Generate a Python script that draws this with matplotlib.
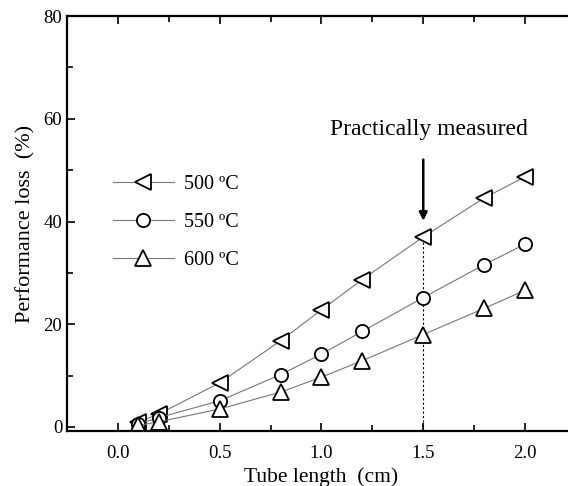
import numpy as np
import matplotlib
matplotlib.use("Agg")
import matplotlib.pyplot as plt
from matplotlib.ticker import MultipleLocator

plt.rcParams['font.family'] = ['Liberation Serif', 'DejaVu Serif']

# data
tube_len = [0.1, 0.2, 0.5, 0.8, 1.0, 1.2, 1.5, 1.8, 2.0]
loss_500 = [1.0, 2.5, 8.6, 16.8, 22.8, 28.7, 37.0, 44.6, 48.7]
loss_550 = [0.6, 1.8, 5.1, 10.2, 14.2, 18.6, 25.2, 31.6, 35.6]
loss_600 = [0.3, 1.0, 3.5, 6.8, 9.7, 12.9, 18.0, 23.1, 26.6]
labels = ['500 ºC', '550 ºC', '600 ºC']
x_measured = 1.5

fig = plt.figure(figsize=(5.68, 4.86), dpi=100)
ax = fig.add_axes([0.118, 0.113, 0.896, 0.854])

line_kw = dict(color='#777777', lw=0.8, mfc='white', mec='black', mew=1.3)
ax.plot(tube_len, loss_500, marker='<', ms=12, label=labels[0], **line_kw)
ax.plot(tube_len, loss_550, marker='o', ms=9.5, label=labels[1], **line_kw)
ax.plot(tube_len, loss_600, marker='^', ms=12, label=labels[2], **line_kw)

# dotted line at measured length
ax.plot([x_measured, x_measured], [-0.8, loss_500[6]], color='black', lw=0.8, ls=(0, (2, 2)), zorder=1)
ax.annotate('', xy=(x_measured, 39.6), xytext=(x_measured, 52.6),
            arrowprops=dict(arrowstyle='-|>', color='black', lw=1.8, mutation_scale=12))
ax.text(1.53, 58.0, 'Practically measured', ha='center', va='center', fontsize=17)

ax.set_xlim(-0.25, 2.25)
ax.set_ylim(-0.8, 80)
ax.xaxis.set_major_locator(MultipleLocator(0.5))
ax.xaxis.set_minor_locator(MultipleLocator(0.25))
ax.yaxis.set_major_locator(MultipleLocator(20))
ax.yaxis.set_minor_locator(MultipleLocator(10))
ax.set_xticks([0.0, 0.5, 1.0, 1.5, 2.0])
ax.set_xticklabels(['0.0', '0.5', '1.0', '1.5', '2.0'])
ax.tick_params(which='both', direction='in', top=True, right=True, labelsize=13.5, width=1.2)
ax.tick_params(which='major', length=6)
ax.tick_params(which='minor', length=4)
ax.tick_params(axis='x', pad=10)
for s in ax.spines.values():
    s.set_linewidth(1.6)

ax.set_xlabel('Tube length  (cm)', fontsize=15.5, labelpad=4)
ax.set_ylabel('Performance loss  (%)', fontsize=16, labelpad=6)

ax.legend(loc='upper left', bbox_to_anchor=(0.055, 0.66), frameon=False, fontsize=14.5,
          handlelength=3.0, handletextpad=0.5, labelspacing=0.92)

fig.savefig('out.png', dpi=100)
